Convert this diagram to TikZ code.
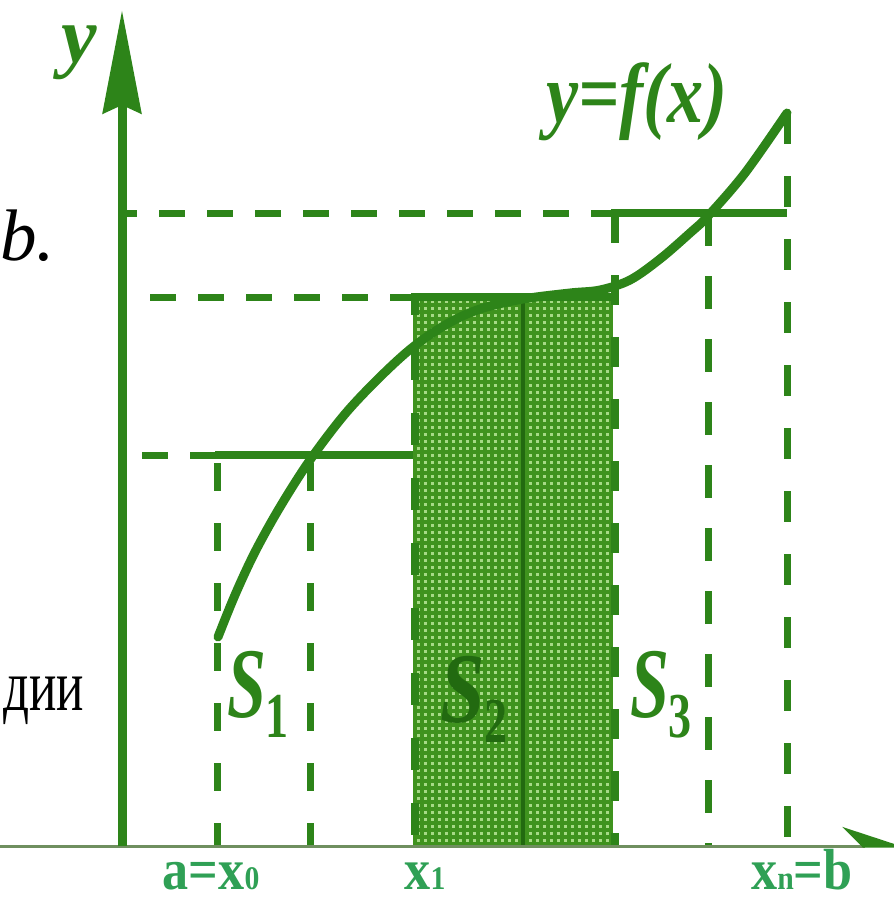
\documentclass[tikz,border=0pt]{standalone}
\usepackage{fontspec}
\setmainfont{Liberation Serif}
\usepackage{tikz}
\usetikzlibrary{arrows.meta}
\definecolor{Leaf}{HTML}{2D8419}
\definecolor{Deep}{HTML}{226A10}
\definecolor{AxisGrey}{HTML}{6F8F5F}
\definecolor{Tag}{HTML}{2FA055}
\definecolor{Shade}{HTML}{3F931E}
\definecolor{Speck}{HTML}{A6DA86}
\newcommand{\Sarea}[2][0.7]{\scalebox{#1}[1]{\fontsize{100}{100}\selectfont\bfseries\itshape S}\raisebox{-20pt}{\scalebox{0.72}[1]{\fontsize{64}{64}\selectfont\bfseries #2}}}
\newcommand{\lowsub}[1]{{\fontsize{33}{33}\selectfont #1}}

\begin{document}
\begin{tikzpicture}[x=1pt,y=-1pt,
  every node/.style={inner sep=0pt,outer sep=0pt},
  yaxis/.style={line width=9pt,Leaf,-{Stealth[length=103pt,width=38pt,inset=8pt]}},
  xaxis/.style={line width=3pt,AxisGrey,-{Stealth[length=58pt,width=38pt,left,color=Leaf]}},
  curve/.style={line width=9pt,Leaf,line cap=round},
  guide/.style={line width=7pt,Leaf,dash pattern=on 26pt off 22pt},
  drop/.style={line width=7pt,Leaf,dash pattern=on 31pt off 32pt},
  level/.style={line width=8pt,Leaf},
  tag/.style={Tag,font=\fontsize{58}{58}\selectfont\bfseries,anchor=base},
  slab/.style={Leaf,anchor=base west},
  slide/.style={black,font=\fontsize{73}{73}\selectfont}
]
\useasboundingbox (0,0) rectangle (894,900);
\clip (0,0) rectangle (894,900);

% shaded rectangle S2
\fill[Shade] (413,297) rectangle (613,846);
\foreach \gx in {418,425,...,610}
  \draw[Speck,line width=3pt,dash pattern=on 3pt off 4pt] (\gx,300) -- (\gx,846);
\draw[Deep,line width=4pt] (523,297) -- (523,846);
\draw[Leaf,line width=8pt,dash pattern=on 32pt off 33pt,dash phase=14pt] (415,297) -- (415,846);
\draw[Leaf,line width=8pt,dash pattern=on 30pt off 32pt] (615,213) -- (615,846);

% levels f(xi)
\draw[guide,dash phase=11pt] (122,213) -- (613,213);
\draw[level] (611,213) -- (787,213);
\draw[guide] (150,297) -- (413,297);
\draw[level] (411,297) -- (613,297);
\draw[guide] (142,455) -- (217,455);
\draw[level] (215,455) -- (413,455);

% partition lines
\draw[drop,dash pattern=on 28pt off 32pt] (217,463) -- (217,846);
\draw[drop,dash pattern=on 28pt off 32pt] (310,463) -- (310,846);
\draw[drop,dash pattern=on 33pt off 30pt] (708,213) -- (708,846);
\draw[drop] (787,113) -- (787,846);

% y = f(x)
\draw[curve] plot[smooth,tension=0.55] coordinates {(218,637) (235,595) (255,552) (280,507) (310,460) (345,414) (380,377) (413,347) (447,324) (480,309) (523,299) (570,293) (600,290) (630,280) (660,259) (690,233) (708,216) (745,173) (787,113)};

% axes
\draw[xaxis] (0,846) -- (905,846);
\draw[yaxis] (122,846) -- (122,10);

% labels
\node[Leaf,font=\fontsize{80}{80}\selectfont\bfseries\itshape,anchor=base] (ylab) at (79,62) {y};
\node[Leaf,font=\fontsize{85}{85}\selectfont\bfseries\itshape,anchor=base] (fx) at (637,122) {\scalebox{0.85}[1]{y=f(x)}};
\node[slide,anchor=base west] (bdot) at (0,260) {\itshape b.};
\node[slide,anchor=base east] (dii) at (84,710) {\scalebox{0.7}[1]{дии}};
\node[slab] (s1) at (227,717) {\Sarea{1}};
\node[slab,Deep] (s2) at (440,722) {\Sarea[0.8]{2}};
\node[slab] (s3) at (630,717) {\Sarea{3}};
\node[tag] (x0) at (211,889) {\scalebox{0.9}[1]{a=x\lowsub{0}}};
\node[tag] (x1) at (425,889) {\scalebox{0.9}[1]{x\lowsub{1}}};
\node[tag] (xn) at (802,889) {\scalebox{0.9}[1]{x\lowsub{n}=b}};
\end{tikzpicture}
\end{document}
